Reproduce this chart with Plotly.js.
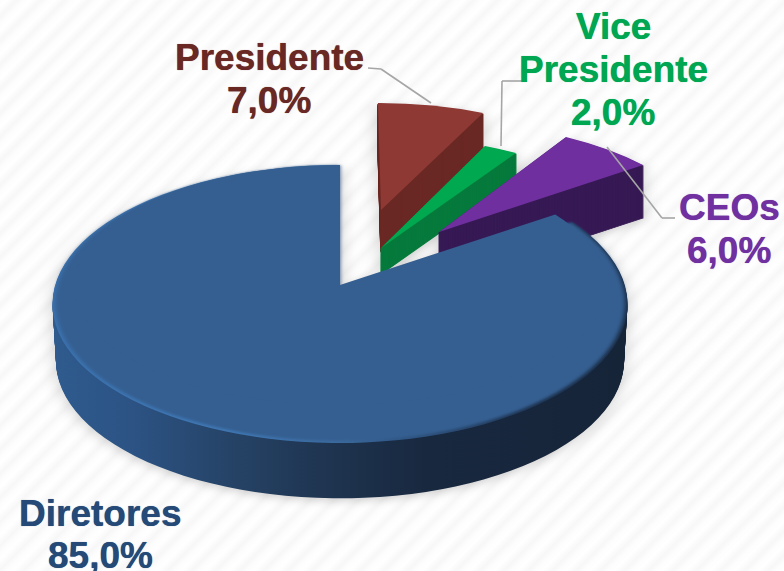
<!DOCTYPE html>
<html><head><meta charset="utf-8">
<script src="https://cdn.plot.ly/plotly-3.0.1.min.js"></script>
<style>
html,body{margin:0;padding:0;width:784px;height:571px;overflow:hidden;
background:repeating-linear-gradient(135deg,#fdfdfd 0,#ffffff 5px,#f7f7f7 12px,#fdfdfd 17px);}
#chart{width:784px;height:571px;}
</style></head><body><div id="chart"></div>
<script>
// ---- data ----
const labels = ["Presidente","Vice Presidente","CEOs","Diretores"];
const values = [7,2,6,85];
const pulls  = [0.85,0.45,0.7,0];
const topColors  = ["#8e3934","#00a84f","#6f2f9f","#355f91"];
const sideColors = ["#6a2824","#067a3c","#371a55","#1f3551"];

// ---- layout helpers ----
const W=784,H=571, SX=2.875, SY=1.39, LCX=392, LCY=285;
const EX=340, EY=304;            // centre of the disc, in page pixels
const lx=x=>LCX+(x-EX)/SX, ly=y=>LCY+(y-EY)/SY;
const maxPull=Math.max(...pulls);
const T="rgba(0,0,0,0)";
const data=[]; const meta=[];
function startAngle(i){let s=0;for(let k=0;k<i;k++)s+=values[k];return s/100*2*Math.PI;}
function pie(i,color,R,cx,cy,kind,extra){
  const colors=values.map((_,k)=>k===i?color:T);
  const hs=R*(1+maxPull);
  const lw=(extra&&extra.lw)||0;
  data.push({type:"pie",values,labels,sort:false,direction:"clockwise",rotation:0,pull:pulls,
    textinfo:"none",hoverinfo:"label+percent",showlegend:false,
    marker:{colors,line:{width:lw,color:colors}},
    domain:{x:[(cx-hs)/W,(cx+hs)/W],y:[1-(cy+hs)/H,1-(cy-hs)/H]}});
  meta.push(Object.assign({i,kind,cx},extra||{}));
}
// exploded slices: where the three corners of each top face sit on the page, and extruded depth
const small=[
 {i:0,s:0.80,tip:[381,210],left:[378,103],right:[483,113],depth:42},
 {i:1,s:0.83,tip:[381,248],left:[485,146],right:[516,153],depth:26},
 {i:2,s:0.83,tip:[439,232],left:[566,137],right:[643,165],depth:53}];
small.forEach(g=>{
  const a0=startAngle(g.i),a1=a0+values[g.i]/100*2*Math.PI,m=(a0+a1)/2,R=100*g.s,p=pulls[g.i];
  const cx=lx(g.tip[0])-p*R*Math.sin(m), cy=ly(g.tip[1])+p*R*Math.cos(m);
  const S0=[lx(g.tip[0]),ly(g.tip[1])];
  const u=[R*Math.sin(a0),-R*Math.cos(a0)], v=[R*Math.sin(a1),-R*Math.cos(a1)];
  const du=[lx(g.left[0])-S0[0],ly(g.left[1])-S0[1]], dv=[lx(g.right[0])-S0[0],ly(g.right[1])-S0[1]];
  const det=u[0]*v[1]-u[1]*v[0];
  const A=[(du[0]*v[1]-dv[0]*u[1])/det,(du[1]*v[1]-dv[1]*u[1])/det,
           (dv[0]*u[0]-du[0]*v[0])/det,(dv[1]*u[0]-du[1]*v[0])/det];
  const E=S0[0]-A[0]*S0[0]-A[2]*S0[1], F=S0[1]-A[1]*S0[0]-A[3]*S0[1];
  const mat=`matrix(${A[0]},${A[1]},${A[2]},${A[3]},${E},${F})`;
  for(let d=g.depth;d>0;d--) pie(g.i,sideColors[g.i],R,cx,cy,"small",{tf:`translate(0,${d/SY}) ${mat}`,lw:0.5});
  pie(g.i,topColors[g.i],R,cx,cy,"small",{tf:mat});
});
// main disc
const mainDepth=57;
for(let d=mainDepth;d>0;d--){
  const t=d/mainDepth;
  pie(3,sideColors[3],100*(1-0.012*t),LCX,LCY+d/SY,"side");
}
pie(3,"#3f74ad",100,LCX,LCY,"rim");
pie(3,topColors[3],99.1,LCX,LCY-1/SY,"face");
pie(3,topColors[3],120/SY,lx(340),ly(285),"patch");

// ---- text and leader lines ----
const font=(c)=>({family:"Liberation Sans, Arial, sans-serif",size:37,color:c,shadow:"0 0 0.7px "+c});
function txt(t,x,y,c){return {text:"<b>"+t+"</b>",xref:"paper",yref:"paper",x:x/W,y:1-y/H,xanchor:"center",yanchor:"middle",showarrow:false,font:font(c)};}
const cPres="#6a2824",cVice="#00a651",cCeo="#7030a0",cDir="#254a77";
const annotations=[
 txt("Presidente",269,57,cPres),txt("7,0%",269,100,cPres),
 txt("Vice",613,27,cVice),txt("Presidente",613,70,cVice),txt("2,0%",613,113,cVice),
 txt("CEOs",729,207,cCeo),txt("6,0%",729,250,cCeo),
 txt("Diretores",100,513,cDir),txt("85,0%",100,555,cDir)];
function seg(a,b,c,d){return {type:"line",xref:"paper",yref:"paper",x0:a/W,y0:1-b/H,x1:c/W,y1:1-d/H,line:{color:"#a6a6a6",width:1.6},layer:"above"};}
const shapes=[seg(368,68,381,69),seg(381,69,431,103),
 seg(523,81,502,81),seg(502,81,501,146),
 seg(607,147,662,218),seg(662,218,675,218)];

Plotly.newPlot("chart",data,{width:W,height:H,margin:{l:0,r:0,t:0,b:0},
  paper_bgcolor:"rgba(0,0,0,0)",plot_bgcolor:"rgba(0,0,0,0)",showlegend:false,annotations,shapes},
  {displayModeBar:false,staticPlot:true}).then(gd=>{
  const NS="http://www.w3.org/2000/svg";
  const svg=gd.querySelector(".main-svg");
  let defs=svg.querySelector("defs");
  function grad(id,stops){
    const g=document.createElementNS(NS,"linearGradient");
    g.setAttribute("id",id);g.setAttribute("gradientUnits","userSpaceOnUse");
    g.setAttribute("x1",lx(52));g.setAttribute("x2",lx(627));g.setAttribute("y1",0);g.setAttribute("y2",0);
    stops.forEach(s=>{const e=document.createElementNS(NS,"stop");e.setAttribute("offset",s[0]);e.setAttribute("stop-color",s[1]);g.appendChild(e);});
    defs.appendChild(g);
  }
  grad("gSide",[[0,"#2f5b8e"],[0.14,"#2c5384"],[0.3,"#264468"],[0.47,"#1f3551"],[0.65,"#18283f"],[1,"#162438"]]);
  grad("gRim",[[0,"#3b73b0"],[0.3,"#4079b6"],[0.5,"#3b6a9e"],[0.62,"#2f5582"],[0.85,"#1d3350"],[1,"#1b2e48"]]);
  const layer=gd.querySelector(".pielayer");
  layer.setAttribute("transform",`translate(${EX-LCX*SX},${EY-LCY*SY}) scale(${SX},${SY})`);
  layer.style.filter="drop-shadow(0 2px 3px rgba(0,0,0,0.18))";
  const traces=layer.querySelectorAll(".trace");
  traces.forEach((tr,n)=>{
    const m=meta[n];
    const paths=tr.querySelectorAll("path.surface");
    if(m.kind==="small") tr.setAttribute("transform",m.tf);
    if(m.kind==="side") paths[3].style.setProperty("fill","url(#gSide)");
    if(m.kind==="rim") paths[3].style.setProperty("fill","url(#gRim)");
    if(m.kind==="face") tr.style.filter="blur(0.7px)";
    if(m.kind==="patch"){
      const k=266/(120/SY*SX);
      tr.setAttribute("transform",`translate(${m.cx},0) scale(${k},1) translate(${-m.cx},0)`);
    }
  });
});
</script></body></html>
